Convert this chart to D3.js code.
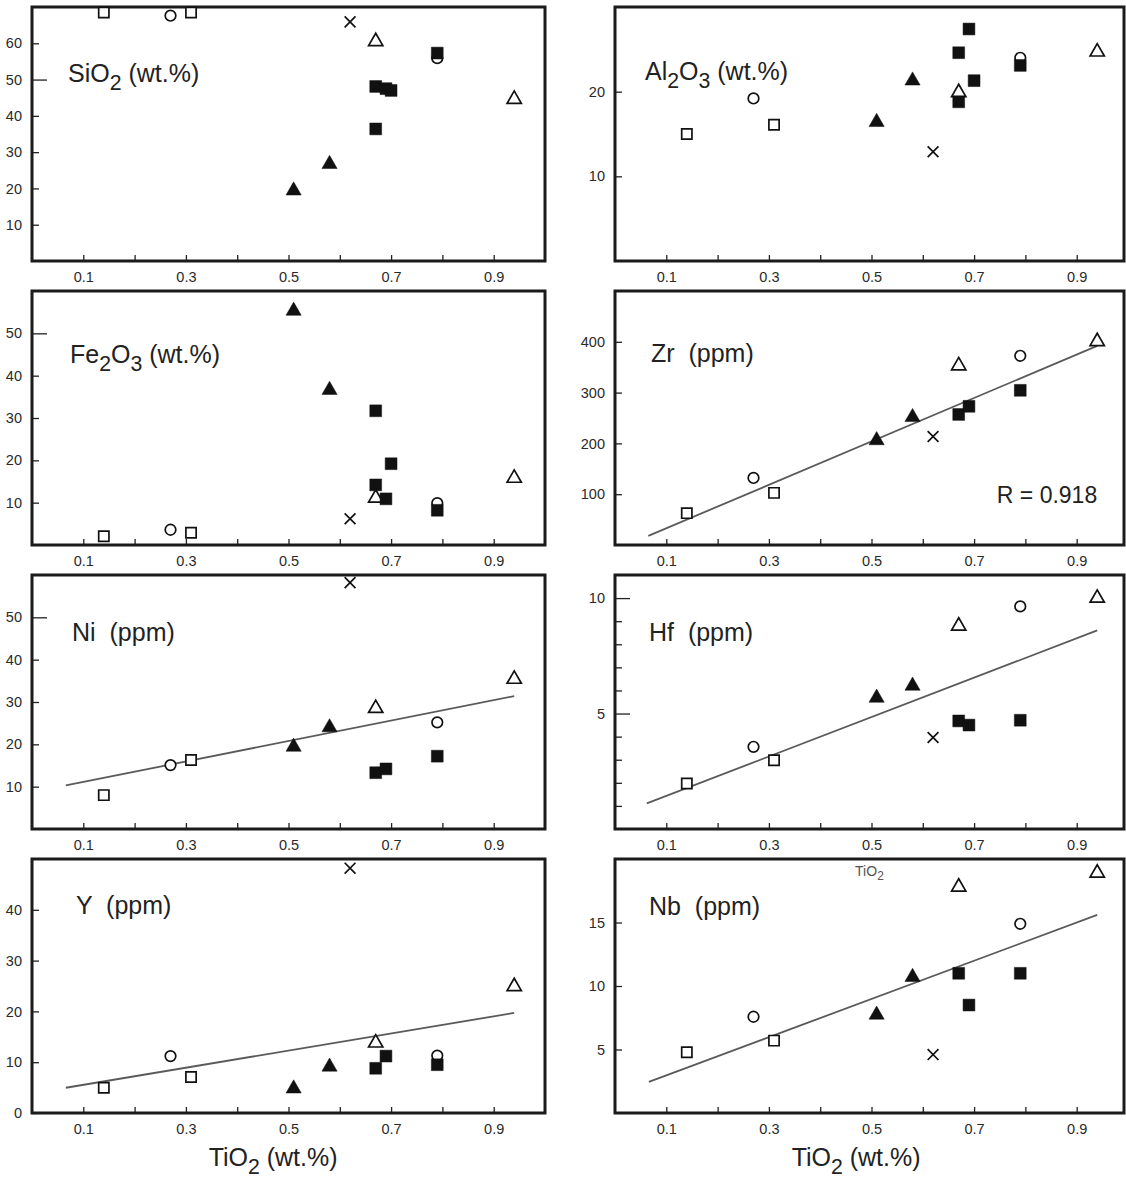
<!DOCTYPE html>
<html>
<head>
<meta charset="utf-8">
<script src="https://cdn.jsdelivr.net/npm/d3@7"></script>
<style>
  body { margin: 0; background: #fff; }
  svg { display: block; font-family: "Liberation Sans", Arial, sans-serif; }
  .tick text { font-size: 14.5px; fill: #2a2a2a; font-family: "Liberation Sans", Arial, sans-serif; }
  .tick line { stroke: #222; stroke-width: 1.3; }
</style>
</head>
<body>
<div id="chart"></div>
<script>
// TiO2 (wt.%) of every sample, same order in all the element lists below
var tio2 = [0.14, 0.31, 0.27, 0.79, 0.51, 0.58, 0.62, 0.67, 0.94, 0.67, 0.67, 0.69, 0.70, 0.79];
// marker of each sample
var groups = ["openSquare", "openSquare", "openCircle", "openCircle",
  "filledTriangle", "filledTriangle", "cross", "openTriangle", "openTriangle",
  "filledSquare", "filledSquare", "filledSquare", "filledSquare", "filledSquare"];

// element values (null = not plotted)
var sio2  = [68.5, 68.5, 67.6, 55.9, 19.4, 26.7, 65.9, 60.5, 44.6, 48.1, 36.4, 47.5, 47.0, 57.3];
var al2o3 = [15.0, 16.1, 19.2, 24.0, 16.4, 21.3, 12.9, 19.9, 24.7, 24.6, 18.8, 27.4, 21.3, 23.1];
var fe2o3 = [2.05, 2.9, 3.6, 9.9, 55.3, 36.6, 6.2, 11.1, 15.8, 31.7, 14.2, 10.9, 19.2, 8.2];
var zr    = [62.7, 102.6, 132, 372.5, 206, 251.6, 213.7, 353, 400.6, 257, null, 273, null, 304.5];
var ni    = [8.0, 16.3, 15.1, 25.2, 19.4, 24.0, 58.2, 28.5, 35.4, 13.3, null, 14.2, null, 17.2];
var hf    = [1.97, 2.98, 3.56, 9.64, 5.68, 6.2, 3.96, 8.79, 10.0, 4.68, null, 4.5, null, 4.71];
var yv    = [4.97, 7.1, 11.2, 11.3, 4.8, 9.1, 48.2, 13.8, 24.9, 8.8, null, 11.2, null, 9.5];
var nb    = [4.79, 5.7, 7.58, 14.9, 7.73, 10.7, 4.6, 17.8, 18.9, 11.0, null, 8.5, null, 11.0];

// regression lines, ends as [TiO2, value]
var zrFit = [[0.065, 18], [0.94, 392]];
var niFit = [[0.066, 10.3], [0.94, 31.4]];
var hfFit = [[0.062, 1.11], [0.94, 8.6]];
var yFit  = [[0.066, 4.97], [0.94, 19.7]];
var nbFit = [[0.066, 2.45], [0.94, 15.6]];

// axis ticks
var xTicks  = [0.1, 0.2, 0.3, 0.4, 0.5, 0.6, 0.7, 0.8, 0.9];
var xLabels = [0.1, 0.3, 0.5, 0.7, 0.9];

var panels = [
  {title: "SiO_2 (wt.%)",   values: sio2,  yMax: 70,  ticks: [10, 20, 30, 40, 50, 60], labels: [10, 20, 30, 40, 50, 60], major: [50], fit: null,  col: 0, row: 0, tx: 36, ty: 75},
  {title: "Al_2O_3 (wt.%)", values: al2o3, yMax: 30,  ticks: [10, 20], labels: [10, 20], major: [], fit: null,  col: 1, row: 0, tx: 30, ty: 73},
  {title: "Fe_2O_3 (wt.%)", values: fe2o3, yMax: 60,  ticks: [10, 20, 30, 40, 50], labels: [10, 20, 30, 40, 50], major: [50], fit: null,  col: 0, row: 1, tx: 38, ty: 72},
  {title: "Zr  (ppm)",      values: zr,    yMax: 500, ticks: [100, 200, 300, 400], labels: [100, 200, 300, 400], major: [], fit: zrFit, col: 1, row: 1, tx: 36, ty: 71},
  {title: "Ni  (ppm)",      values: ni,    yMax: 60,  ticks: [10, 20, 30, 40, 50], labels: [10, 20, 30, 40, 50], major: [50], fit: niFit, col: 0, row: 2, tx: 40, ty: 66},
  {title: "Hf  (ppm)",      values: hf,    yMax: 11,  ticks: [1, 2, 3, 4, 5, 6, 7, 8, 9, 10], labels: [5, 10], major: [5, 10], fit: hfFit, col: 1, row: 2, tx: 34, ty: 66},
  {title: "Y  (ppm)",       values: yv,    yMax: 50,  ticks: [0, 10, 20, 30, 40], labels: [0, 10, 20, 30, 40], major: [], fit: yFit,  col: 0, row: 3, tx: 44, ty: 55},
  {title: "Nb  (ppm)",      values: nb,    yMax: 20,  ticks: [5, 10, 15], labels: [5, 10, 15], major: [], fit: nbFit, col: 1, row: 3, tx: 34, ty: 56}
];

var colX = [32, 615], rowY = [7, 291, 575, 859];
var plotW = 513, plotH = 254;

var symbolType = {
  openSquare: d3.symbolSquare, filledSquare: d3.symbolSquare,
  openCircle: d3.symbolCircle,
  openTriangle: d3.symbolTriangle, filledTriangle: d3.symbolTriangle,
  cross: d3.symbolTimes || d3.symbolX
};
var symbolSize = {openSquare: 105, filledSquare: 140, openCircle: 88, openTriangle: 88, filledTriangle: 100, cross: 78};

var svg = d3.select("#chart").append("svg")
  .attr("width", 1126)
  .attr("height", 1180);

// text with _n subscripts
function richText(sel, str, fs) {
  var parts = str.split(/_(\d)/);
  var shift = 0;
  parts.forEach(function(s, i) {
    if (!s) return;
    var sub = i % 2 === 1;
    var target = sub ? fs * 0.32 : 0;
    var t = sel.append("tspan").text(s).attr("dy", target - shift);
    if (sub) t.attr("font-size", fs * 0.85);
    shift = target;
  });
}

panels.forEach(function(p) {
  var x0 = colX[p.col], y0 = rowY[p.row];
  var x = d3.scaleLinear().domain([0, 1]).range([x0, x0 + plotW]);
  var y = d3.scaleLinear().domain([0, p.yMax]).range([y0 + plotH, y0]);
  var g = svg.append("g");
  p.x = x; p.y = y;

  // bottom ticks, pointing inwards
  g.append("g")
    .attr("transform", "translate(0," + (y0 + plotH) + ")")
    .call(d3.axisBottom(x).tickValues(xTicks).tickSize(-6).tickPadding(11)
      .tickFormat(function(d) { return xLabels.indexOf(d) >= 0 ? d3.format(".1f")(d) : ""; }))
    .call(function(a) { a.select(".domain").remove(); });

  // left ticks
  g.append("g")
    .attr("transform", "translate(" + x0 + ",0)")
    .call(d3.axisLeft(y).tickValues(p.ticks).tickSize(-7).tickPadding(10)
      .tickFormat(function(d) { return p.labels.indexOf(d) >= 0 ? d : ""; }))
    .call(function(a) {
      a.select(".domain").remove();
      a.selectAll(".tick line").attr("x2", function(d) { return p.major.indexOf(d) >= 0 ? 15 : 7; });
    });

  // frame
  g.append("rect")
    .attr("x", x0)
    .attr("y", y0)
    .attr("width", Math.min(plotW, 1124 - x0))
    .attr("height", plotH)
    .attr("fill", "none")
    .attr("stroke", "#1b1b1b")
    .attr("stroke-width", 3);

  if (p.fit) {
    g.append("path")
      .datum(p.fit)
      .attr("d", d3.line().x(function(d) { return x(d[0]); }).y(function(d) { return y(d[1]); }))
      .attr("fill", "none")
      .attr("stroke", "#5a5a5a")
      .attr("stroke-width", 1.8);
  }

  var pts = [];
  tio2.forEach(function(t, i) {
    if (p.values[i] != null) pts.push({t: t, v: p.values[i], grp: groups[i]});
  });

  g.selectAll("path.pt")
    .data(pts)
    .enter().append("path")
    .attr("class", "pt")
    .attr("transform", function(d) { return "translate(" + x(d.t) + "," + y(d.v) + ")"; })
    .attr("d", function(d) { return d3.symbol().type(symbolType[d.grp]).size(symbolSize[d.grp])(); })
    .attr("fill", function(d) {
      if (d.grp == "cross") return "none";
      return d.grp.indexOf("filled") == 0 ? "#111" : "#fff";
    })
    .attr("stroke", "#111")
    .attr("stroke-width", function(d) { return d.grp.indexOf("filled") == 0 ? 0.5 : 1.7; });

  // panel title
  var title = g.append("text")
    .attr("x", x0 + p.tx)
    .attr("y", y0 + p.ty)
    .attr("font-size", 25)
    .attr("fill", "#222")
    .style("white-space", "pre");
  richText(title, p.title, 25);

  // TiO2 axis title under the last row
  if (p.row == 3) {
    var xt = g.append("text")
      .attr("x", x(0.47))
      .attr("y", 1166)
      .attr("text-anchor", "middle")
      .attr("font-size", 25)
      .attr("fill", "#222");
    richText(xt, "TiO_2 (wt.%)", 25);
  }
});

// correlation coefficient in the Zr panel
var zrPanel = panels[3];
svg.append("text")
  .attr("x", zrPanel.x(0.94))
  .attr("y", zrPanel.y(82))
  .attr("text-anchor", "end")
  .attr("font-size", 23)
  .attr("fill", "#222")
  .text("R = 0.918");

// stray TiO2 label in the Nb panel
var nbPanel = panels[7];
var stray = svg.append("text")
  .attr("x", nbPanel.x(0.468))
  .attr("y", nbPanel.y(18.7))
  .attr("font-size", 14)
  .attr("fill", "#555");
richText(stray, "TiO_2", 14);
</script>
</body>
</html>
